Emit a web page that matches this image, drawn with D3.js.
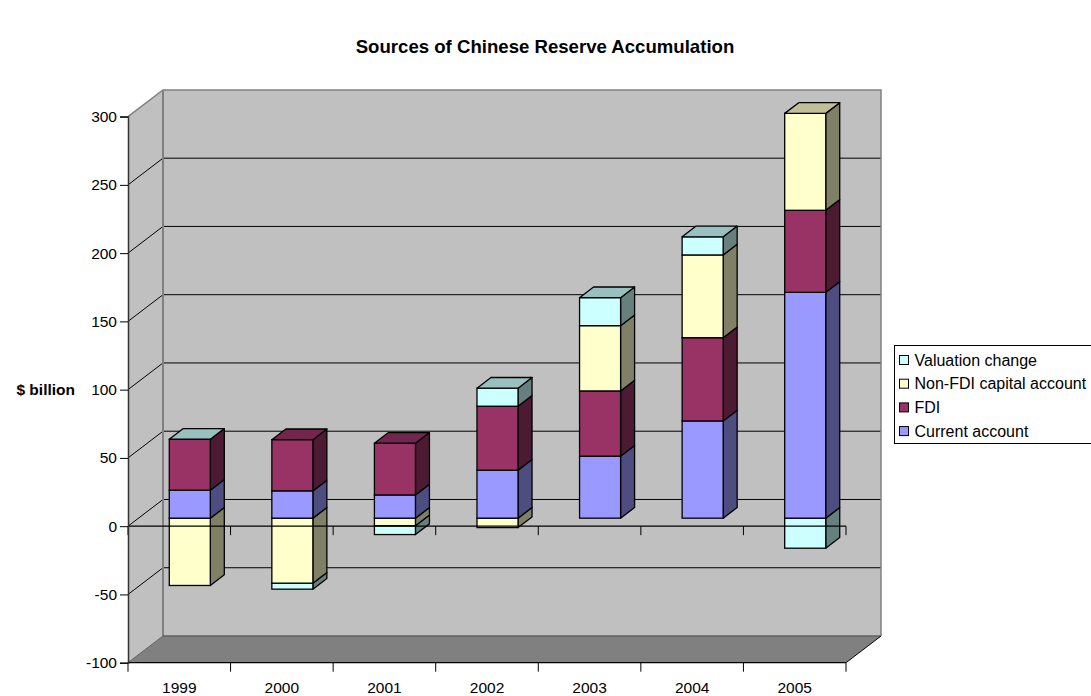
<!DOCTYPE html>
<html><head><meta charset="utf-8">
<script src="https://cdn.jsdelivr.net/npm/d3@7"></script>
<style>body{margin:0;background:#fff}svg{display:block;font-family:"Liberation Sans",Arial,sans-serif}</style>
</head><body>
<svg id="c" width="1091" height="696"></svg>
<script>
const years = ["1999","2000","2001","2002","2003","2004","2005"];
const seriesNames = ["Current account","FDI","Non-FDI capital account","Valuation change"];
const currentAccount = [20.5, 20.0, 17.0, 35.1, 45.4, 71.2, 165.4];
const fdi            = [37.3, 37.5, 37.9, 46.9, 47.8, 61.0, 60.1];
const nonFdi         = [-49.3, -47.6, -5.5, -6.9, 47.8, 60.6, 71.0];
const valuation      = [0, -4.4, -6.5, 13.2, 20.5, 13.3, -22.0];
const yTicks = [-100,-50,0,50,100,150,200,250,300];
const colors = ["#9999FF","#993366","#FFFFCC","#CCFFFF"];

const FS = 15.5;
const values = [currentAccount, fdi, nonFdi, valuation];
const svg = d3.select("#c");
const x = d3.scaleBand().domain(years).range([128, 846]).paddingInner(0).paddingOuter(0);
const y = d3.scaleLinear().domain([-100, 300]).range([662.7, 116.6]);
const DX = 35, DY = -26.7;

function shade(c, k){ const r = d3.rgb(c); return d3.rgb(r.r*k, r.g*k, r.b*k).formatHex(); }

const x0 = x.range()[0], x1 = x.range()[1];
const yMin = y(-100), yMax = y(300);
svg.append("polygon").attr("points", [[x0,yMax],[x0+DX,yMax+DY],[x0+DX,yMin+DY],[x0,yMin]].join(" "))
  .attr("fill","#C0C0C0");
svg.append("rect").attr("x", x0+DX).attr("y", yMax+DY).attr("width", x1-x0).attr("height", yMin-yMax)
  .attr("fill","#C0C0C0");
svg.append("polygon").attr("points", [[x0,yMin],[x1,yMin],[x1+DX,yMin+DY],[x0+DX,yMin+DY]].join(" "))
  .attr("fill","#808080");

const grid = yTicks.filter(v => v > -100 && v < 300);
grid.forEach(v => {
  const yy = y(v);
  svg.append("line").attr("x1", x0).attr("y1", yy).attr("x2", x0+DX).attr("y2", yy+DY).attr("stroke","#000").attr("stroke-width",1);
  svg.append("line").attr("x1", x0+DX).attr("y1", yy+DY).attr("x2", x1+DX).attr("y2", yy+DY).attr("stroke","#000").attr("stroke-width",1);
});
const edge = "#808080";
svg.append("polyline").attr("points", [[x0,yMax],[x0+DX,yMax+DY],[x1+DX,yMax+DY],[x1+DX,yMin+DY]].join(" "))
  .attr("fill","none").attr("stroke",edge).attr("stroke-width",1.5);
svg.append("line").attr("x1",x0+DX).attr("y1",yMax+DY).attr("x2",x0+DX).attr("y2",yMin+DY).attr("stroke",edge).attr("stroke-width",2);
svg.append("line").attr("x1",x0+DX).attr("y1",yMin+DY).attr("x2",x1+DX).attr("y2",yMin+DY).attr("stroke","#606060").attr("stroke-width",1.5);
svg.append("line").attr("x1",x0).attr("y1",yMin).attr("x2",x0+DX).attr("y2",yMin+DY).attr("stroke","#606060").attr("stroke-width",1);
svg.append("line").attr("x1",x1).attr("y1",yMin).attr("x2",x1+DX).attr("y2",yMin+DY).attr("stroke","#000").attr("stroke-width",1);

const bw = x.bandwidth()*0.4;
const fOff = 0.3;
const bdx = DX*0.4, bdy = DY*0.4;
years.forEach((yr, i) => {
  const bx = x(yr) + x.bandwidth()*0.3 + DX*fOff;
  const shiftY = DY*fOff;
  let pos = 0, neg = 0;
  const segs = [];
  values.forEach((arr, s) => {
    const v = arr[i];
    if (v >= 0) { segs.push({s, a: pos, b: pos+v}); pos += v; }
    else { segs.push({s, a: neg+v, b: neg}); neg += v; }
  });
  const g = svg.append("g");
  const ordered = segs.slice().sort((p,q) => p.a - q.a);
  ordered.forEach(sg => {
    const yt = y(sg.b) + shiftY, yb = y(sg.a) + shiftY;
    const c = colors[sg.s];
    g.append("polygon").attr("points", [[bx+bw,yt],[bx+bw+bdx,yt+bdy],[bx+bw+bdx,yb+bdy],[bx+bw,yb]].join(" "))
      .attr("fill", shade(c,0.5)).attr("stroke","#000").attr("stroke-width",1.3).attr("stroke-linejoin","round");
    g.append("rect").attr("x", bx).attr("y", yt).attr("width", bw).attr("height", Math.max(0, yb-yt))
      .attr("fill", c).attr("stroke","#000").attr("stroke-width",1.3);
  });
  const posSegs = segs.filter(sg => sg.b > 0 || (sg.a === 0 && sg.b === 0 && values[sg.s][i] >= 0));
  const top = posSegs.length ? posSegs.reduce((m, sg) => (sg.b >= m.b ? sg : m)) : null;
  if (top) {
    const yt = y(top.b) + shiftY;
    g.append("polygon").attr("points", [[bx,yt],[bx+bdx,yt+bdy],[bx+bw+bdx,yt+bdy],[bx+bw,yt]].join(" "))
      .attr("fill", shade(colors[top.s],0.75)).attr("stroke","#000").attr("stroke-width",1.3).attr("stroke-linejoin","round");
  }
});

const y0 = y(0);
svg.append("line").attr("x1", x0).attr("y1", y0).attr("x2", x1).attr("y2", y0).attr("stroke","#000").attr("stroke-width",1.2);
const bounds = years.map(d => x(d)).concat([x1]);
bounds.forEach(bx => {
  svg.append("line").attr("x1",bx).attr("y1",y0).attr("x2",bx).attr("y2",y0+9).attr("stroke","#000").attr("stroke-width",1);
});
svg.append("line").attr("x1", x0).attr("y1", yMin).attr("x2", x1).attr("y2", yMin).attr("stroke","#000").attr("stroke-width",1.2);
bounds.forEach(bx => {
  svg.append("line").attr("x1",bx).attr("y1",yMin).attr("x2",bx).attr("y2",yMin+9).attr("stroke","#000").attr("stroke-width",1);
});

const yAxis = d3.axisLeft(y).tickValues(yTicks).tickSize(8).tickPadding(3).tickFormat(d => String(d));
const ga = svg.append("g").attr("transform", `translate(${x0},0)`).call(yAxis);
ga.select(".domain").attr("stroke","#333").attr("stroke-width",1.5);
ga.selectAll(".tick line").attr("stroke","#000");
ga.selectAll(".tick text").attr("font-size",FS).attr("fill","#000").attr("font-family","'Liberation Sans',Arial,sans-serif");

const xAxis = d3.axisBottom(x).tickSize(0).tickPadding(0);
const gx = svg.append("g").attr("transform", `translate(0,${yMin+19})`).call(xAxis);
gx.select(".domain").remove();
gx.selectAll(".tick text").attr("font-size",FS).attr("fill","#000").attr("font-family","'Liberation Sans',Arial,sans-serif");

svg.append("text").attr("x", 545).attr("y", 53).attr("text-anchor","middle").attr("font-size",18.6).attr("font-weight","bold").text("Sources of Chinese Reserve Accumulation");
svg.append("text").attr("x", 75).attr("y", 394.5).attr("text-anchor","end").attr("font-size",FS).attr("font-weight","bold").text("$ billion");

const lg = svg.append("g");
lg.append("rect").attr("x", 894.5).attr("y", 345.5).attr("width", 210).attr("height", 98).attr("fill","#fff").attr("stroke","#000").attr("stroke-width",1);
const legendOrder = [3,2,1,0];
legendOrder.forEach((s, k) => {
  const cy = 360 + k*23.7;
  lg.append("rect").attr("x", 899.5).attr("y", cy-4.5).attr("width", 9).attr("height", 9).attr("fill", colors[s]).attr("stroke","#000").attr("stroke-width",1);
  lg.append("text").attr("x", 914.5).attr("y", cy+5.7).attr("font-size",16).text(seriesNames[s]);
});
</script>
</body></html>
